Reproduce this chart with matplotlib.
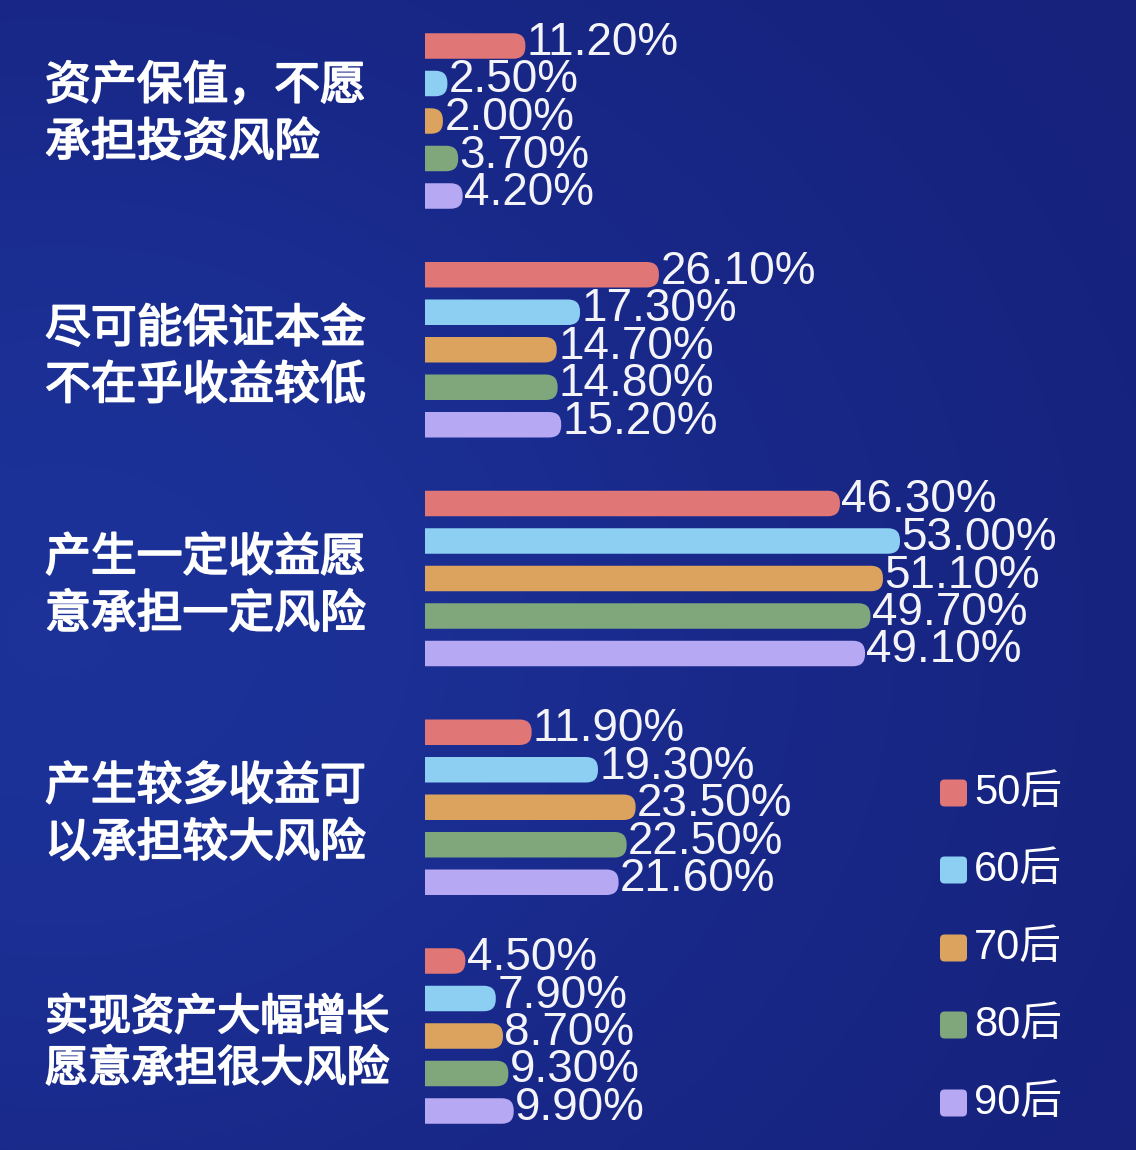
import numpy as np
import matplotlib
matplotlib.use("Agg")
import matplotlib.pyplot as plt
from matplotlib.patches import FancyBboxPatch
from matplotlib.colors import LinearSegmentedColormap
import matplotlib.transforms as mtransforms
import matplotlib.patheffects as pe

# data
categories = ["资产保值，不愿\n承担投资风险",
              "尽可能保证本金\n不在乎收益较低",
              "产生一定收益愿\n意承担一定风险",
              "产生较多收益可\n以承担较大风险",
              "实现资产大幅增长\n愿意承担很大风险"]
series = ["50后", "60后", "70后", "80后", "90后"]
values = {
    "50后": [11.2, 26.1, 46.3, 11.9, 4.5],
    "60后": [2.5, 17.3, 53.0, 19.3, 7.9],
    "70后": [2.0, 14.7, 51.1, 23.5, 8.7],
    "80后": [3.7, 14.8, 49.7, 22.5, 9.3],
    "90后": [4.2, 15.2, 49.1, 21.6, 9.9],
}
colors = ["#e17676", "#8ccff3", "#dba35e", "#80a67b", "#b6a8f2"]

W, H = 1136, 1150
DPI = 100
TEXT = "#ffffff"

fig = plt.figure(figsize=(W / DPI, H / DPI), dpi=DPI)

# gradient background
bg = fig.add_axes([0, 0, 1, 1])
bg.set_axis_off()
yy, xx = np.mgrid[0:1:200j, 0:1:200j]
field = np.exp(-((xx - 0.05) ** 2 / 0.6 + (yy - 0.55) ** 2 / 0.4))
cmap = LinearSegmentedColormap.from_list("bg", ["#16227c", "#19298a", "#1c3299"])
bg.imshow(field, cmap=cmap, aspect="auto", extent=[0, 1, 1, 0], interpolation="bicubic")
bg.set_xlim(0, 1)
bg.set_ylim(1, 0)

# bar axes
x0_px = 425
ax = fig.add_axes([x0_px / W, 0, 1 - x0_px / W, 1])
ax.set_axis_off()
px_per_unit = 475 / 53.0
ax.set_xlim(0, (W - x0_px) / px_per_unit)
slot_px = 37.5
gap = 6.1
first_px = 46
ax.set_ylim((H - first_px) / slot_px, -first_px / slot_px)

bar_h = 0.68
radius_px = 12
mut_aspect = (1 / slot_px) / (1 / px_per_unit)
rx = radius_px / px_per_unit

num_font = ["Liberation Sans", "DejaVu Sans"]
cjk_font = ["Noto Sans CJK SC", "DejaVu Sans"]

for j, s in enumerate(series):
    for i, v in enumerate(values[s]):
        y = i * gap + j
        # start left of the axes so the left corners get clipped square
        box = FancyBboxPatch((-3 * rx, y - bar_h / 2), v + 3 * rx, bar_h,
                             boxstyle="round,pad=0,rounding_size=%f" % rx,
                             mutation_aspect=mut_aspect,
                             fc=colors[j], ec="none", zorder=2)
        ax.add_patch(box)
        ax.text(v + 0.15, y - 0.08, "%.2f%%" % v, ha="left", va="center",
                fontsize=33, color="#f4f4f8", family=num_font, zorder=3)

# category labels
trans = mtransforms.blended_transform_factory(fig.transFigure, ax.transData)
label_sizes = [33, 33, 33, 33, 31]
label_shift = [-0.18, 0.2, 0.2, 0.2, 0.2]
for i, c in enumerate(categories):
    yc = i * gap + 2 + label_shift[i]
    ax.text(45 / W, yc, c, transform=trans, ha="left", va="center",
            fontsize=label_sizes[i], color=TEXT, family=cjk_font,
            linespacing=1.22,
            path_effects=[pe.withStroke(linewidth=1.3, foreground=TEXT)])

# legend
leg_y = [793, 870, 948, 1025, 1103]
for j, s in enumerate(series):
    yf = 1 - leg_y[j] / H
    sq = FancyBboxPatch((940 / W, yf - 13.5 / H), 27 / W, 27 / H,
                        boxstyle="round,pad=0,rounding_size=0.004",
                        mutation_aspect=W / H,
                        transform=fig.transFigure, fc=colors[j], ec="none")
    fig.patches.append(sq)
    fig.text(974 / W, yf, s, ha="left", va="center", fontsize=30,
             color=TEXT, family=["Liberation Sans", "Noto Sans CJK SC"])

fig.savefig("out.png", dpi=DPI)
